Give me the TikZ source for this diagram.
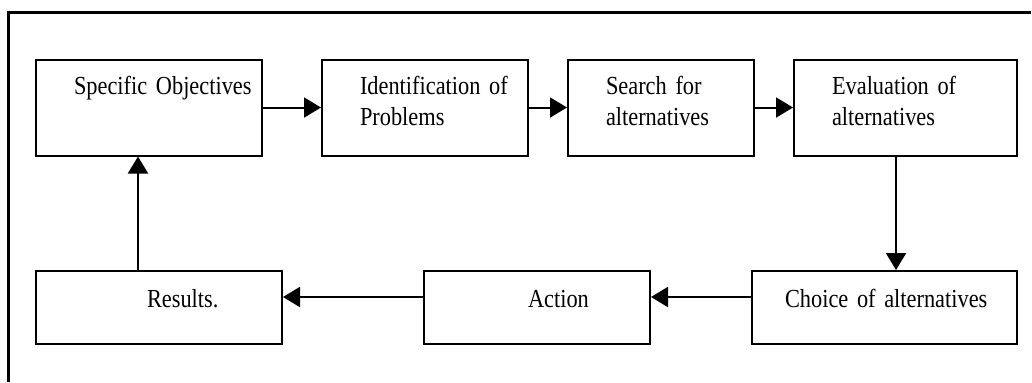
\documentclass[tikz,border=0pt]{standalone}
\usepackage{fontspec}
\setmainfont{Liberation Serif}[FakeStretch=0.86]
\usetikzlibrary{positioning,arrows.meta,calc}

\begin{document}
\begin{tikzpicture}[x=0.5pt,y=-0.5pt,
  stepbox/.style 2 args={rectangle,draw,line width=1pt,align=left,inner xsep=#1,text width=#2,font=\fontsize{13}{15.5}\selectfont},
  rowhi/.style={minimum height=48pt,text height=10pt,text depth=23.5pt},
  rowlo/.style={minimum height=36.5pt,text height=8pt,text depth=8pt},
  arr/.style={-{Triangle[length=8.5pt,width=10pt]},line width=1pt},
  frame/.style={line width=1.5pt},
]
\useasboundingbox (0,0) rectangle (1032,382);

% Outer frame (left and top edges only)
\draw[frame] (8,382) |- (1031,12);

% Top row
\node[stepbox={19pt}{75pt},rowhi] (spec) at (149,107.5) {\mbox{Specific Objectives}};
\node[stepbox={19pt}{65pt},rowhi,right=29pt of spec] (ident) {\mbox{Identification of}\\Problems};
\node[stepbox={19pt}{55pt},rowhi,right=19pt of ident] (search) {\mbox{Search for}\\\mbox{alternatives}};
\node[stepbox={19pt}{73.5pt},rowhi,right=19pt of search] (eval) {\mbox{Evaluation of}\\\mbox{alternatives}};

% Bottom row
\node[stepbox={16.5pt}{99.5pt},rowlo] (choice) at (884.5,307.5) {\mbox{Choice of alternatives}};
\node[stepbox={52pt}{9pt},rowlo,left=50pt of choice] (action) {\mbox{Action}};
\node[stepbox={55.5pt}{12pt},rowlo,left=70pt of action] (results) {\mbox{Results.}};

% Arrows
\draw[arr] (spec) -- (ident);
\draw[arr] (ident) -- (search);
\draw[arr] (search) -- (eval);
\draw[arr] ([xshift=-4.75pt]eval.south) -- ([xshift=-4.75pt]eval.south |- choice.north);
\draw[arr] ([yshift=5.25pt]choice.west) -- ([yshift=5.25pt]choice.west -| action.east);
\draw[arr] ([yshift=5.25pt]action.west) -- ([yshift=5.25pt]action.west -| results.east);
\draw[arr] ([xshift=-10.5pt]results.north) -- ([xshift=-10.5pt]results.north |- spec.south);

\end{tikzpicture}
\end{document}
